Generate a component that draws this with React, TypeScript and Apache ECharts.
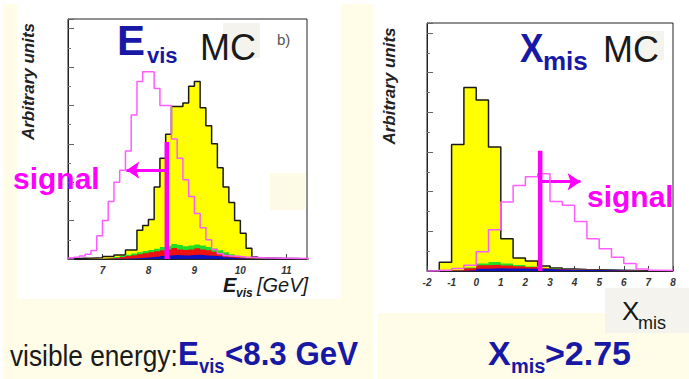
import React, { useEffect, useRef } from "react";
import * as echarts from "echarts";

// ---------- Left panel: visible energy (GeV), bins of 0.125 starting at 6.25 ----------
const EVIS_START = 6.25;
const EVIS_BIN = 0.125;
const EVIS_MIN = 6.25;
const EVIS_MAX = 11.45;
const evisTicks = [7, 8, 9, 10, 11];
// total background (yellow, black outline)
const evisBackground = [
  0.2, 0.2, 0.3, 0.3, 0.4, 0.5,
  1.0, 1.0, 1.7, 1.7, 3.8, 3.8, 12, 14,
  16.5, 30, 42, 52, 63.5, 63.5, 65, 72,
  74, 63, 55.5, 48, 38, 30, 23.5, 16,
  10.7, 4.5, 0.8, 0.5, 0.4, 0.3, 0.3, 0.2,
  0.2, 0.2, 0.1, 0.1,
];
// signal MC (magenta outline)
const evisSignal = [
  0.4, 0.7, 1.2, 2.0, 3.5, 9.7,
  16, 24, 32, 37, 45, 60, 74, 78,
  78, 71, 64, 64, 50, 42, 33, 26,
  19, 13, 8, 4, 2.2, 1.5, 1.2, 1.0,
  0.8, 0.7, 0.6, 0.5, 0.4, 0.4, 0.3, 0.3,
  0.3, 0.2, 0.2, 0.2,
];
// stacked components (cumulative tops)
const evisGreen = [
  0, 0, 0, 0.1, 0.1, 0.2,
  0.3, 0.5, 0.8, 1.2, 1.8, 2.3, 2.8, 3.3,
  3.8, 4.3, 5.0, 5.5, 6.3, 5.8, 5.3, 5.6,
  6.0, 5.6, 5.0, 4.4, 3.6, 2.8, 2.0, 1.4,
  0.9, 0.5, 0.3, 0.2, 0.1, 0.1, 0.1, 0.1,
  0, 0, 0, 0,
];
const evisRed = [
  0, 0, 0, 0.1, 0.1, 0.1,
  0.2, 0.3, 0.5, 0.8, 1.2, 1.6, 2.0, 2.4,
  2.8, 3.2, 3.6, 4.0, 4.6, 4.0, 3.7, 4.0,
  4.5, 4.0, 3.6, 3.0, 2.4, 1.8, 1.3, 0.9,
  0.6, 0.3, 0.2, 0.1, 0.1, 0.1, 0.1, 0.1,
  0, 0, 0, 0,
];
const evisBlue = [
  0, 0, 0, 0, 0, 0,
  0, 0.1, 0.1, 0.1, 0.2, 0.3, 0.4, 0.6,
  0.8, 1.0, 1.3, 1.5, 1.7, 1.6, 1.5, 1.7,
  1.8, 1.6, 1.4, 1.2, 1.0, 0.7, 0.5, 0.3,
  0.2, 0.1, 0.1, 0.1, 0.1, 0.1, 0.1, 0.1,
  0.1, 0.1, 0, 0,
];
const EVIS_CUT = 8.4;
const EVIS_CUT_TOP = 48.75;
const EVIS_ARROW_Y = 37;
const EVIS_ARROW_END = 7.52;

// ---------- Right panel: X_mis, bins of 0.5 starting at -2 ----------
const XMIS_START = -2;
const XMIS_BIN = 0.5;
const XMIS_MIN = -2;
const XMIS_MAX = 8;
const xmisTicks = [-2, -1, 0, 1, 2, 3, 4, 5, 6, 7, 8];
const xmisBackground = [0, 3.5, 51, 74, 69, 50, 13, 5.2, 4.0, 2.0, 1.2, 0.8, 0.6, 0.5, 0.4, 0.3, 0.2, 0.1, 0.1, 0.1];
const xmisSignal = [0, 0.3, 1.0, 2.3, 7.8, 16.6, 27.8, 34.5, 38, 39.2, 28, 26.5, 20, 13, 9, 5.5, 3, 0.8, 0.3, 0.2];
const xmisGreen = [0, 0, 0.4, 1.4, 3.0, 3.6, 3.0, 2.4, 1.8, 1.2, 0.9, 0.7, 0.6, 0.5, 0.4, 0.3, 0.2, 0, 0, 0];
const xmisRed = [0, 0, 0.3, 1.1, 2.3, 2.5, 2.2, 1.9, 1.6, 1.1, 0.8, 0.6, 0.6, 0.5, 0.4, 0.3, 0.2, 0, 0, 0];
const xmisBlue = [0, 0, 0.1, 0.3, 0.9, 1.1, 1.0, 1.0, 0.9, 0.8, 0.6, 0.5, 0.5, 0.4, 0.3, 0.2, 0.1, 0, 0, 0];
const XMIS_CUT = 2.6;
const XMIS_CUT_TOP = 48.5;
const XMIS_ARROW_Y = 36;
const XMIS_ARROW_END = 4.24;

const Y_MAX = 100;

const PANEL_YELLOW = "#fffde7";
const BOX_GRAY = "#f4f3ee";
const BLUE = "#1818a6";
const MAGENTA = "#ff00ff";
const PINK = "#ff5cff";
const FONT = '"Liberation Sans", Arial, Helvetica, sans-serif';

function steps(start: number, bin: number, values: number[]) {
  const pts: number[][] = values.map((v, i) => [start + i * bin, v]);
  const end = start + values.length * bin;
  pts.push([end, values[values.length - 1]]);
  pts.push([end, 0]);
  return pts;
}

function hist(ax: number, start: number, bin: number, values: number[], o: any) {
  return {
    type: "line",
    xAxisIndex: ax,
    yAxisIndex: ax,
    step: "end",
    symbol: "none",
    silent: true,
    clip: true,
    data: steps(start, bin, values),
    lineStyle: o.line ?? { width: 0, opacity: 0 },
    areaStyle: o.area ? { color: o.area, opacity: 1 } : undefined,
    z: o.z,
  };
}

function cut(ax: number, x: number, top: number, ay: number, aend: number) {
  return {
    type: "line",
    xAxisIndex: ax,
    yAxisIndex: ax,
    symbol: "none",
    silent: true,
    data: [
      [x, 0],
      [x, top],
    ],
    lineStyle: { color: MAGENTA, width: 4.5 },
    z: 10,
    markLine: {
      silent: true,
      symbol: ["none", "arrow"],
      symbolSize: 13,
      label: { show: false },
      lineStyle: { color: MAGENTA, width: 3, type: "solid" },
      data: [[{ coord: [x, ay] }, { coord: [aend, ay] }]],
    },
  };
}

function txt(text: string, x: number, baseline: number, size: number, o: any = {}) {
  return {
    type: "text",
    z: 50,
    silent: true,
    x,
    y: baseline - 0.35 * size,
    scaleX: o.sx ?? 1,
    rotation: o.rot ?? 0,
    style: {
      text,
      fill: o.color ?? "#161616",
      fontSize: size,
      fontWeight: o.weight ?? "normal",
      fontStyle: o.style ?? "normal",
      fontFamily: FONT,
      textAlign: o.align ?? "left",
      textVerticalAlign: "middle",
      align: o.align ?? "left",
      verticalAlign: "middle",
    },
  };
}

function rect(x: number, y: number, w: number, h: number, fill: string, z: number) {
  return { type: "rect", z, silent: true, shape: { x, y, width: w, height: h }, style: { fill } };
}

function xAxis(grid: number, min: number, max: number, ticks: number[]) {
  return {
    type: "value",
    gridIndex: grid,
    min,
    max,
    axisLine: { show: true, onZero: false, lineStyle: { color: "#222", width: 1 } },
    axisTick: { show: true, inside: true, length: 5, customValues: ticks, lineStyle: { color: "#444" } },
    axisLabel: {
      customValues: ticks,
      fontStyle: "italic",
      fontWeight: "bold",
      fontSize: 10,
      color: "#333",
      margin: 6,
      fontFamily: FONT,
    },
    splitLine: { show: false },
  };
}

function yAxis(grid: number) {
  return {
    type: "value",
    gridIndex: grid,
    min: 0,
    max: Y_MAX,
    interval: 16,
    axisLine: { show: true, onZero: false, lineStyle: { color: "#222", width: 1 } },
    axisTick: { show: true, inside: true, length: 6, lineStyle: { color: "#666" } },
    minorTick: { show: true, splitNumber: 2, length: 3, lineStyle: { color: "#777" } },
    axisLabel: { show: false },
    splitLine: { show: false },
    minorSplitLine: { show: false },
  };
}

export default function App() {
  const ref = useRef<HTMLDivElement>(null);
  useEffect(() => {
    const chart = echarts.init(ref.current!, null, { renderer: "svg" });
    const option: any = {
      animation: false,
      backgroundColor: "#ffffff",
      grid: [
        { left: 68, top: 19, width: 239, height: 240, show: true, borderColor: "#222", borderWidth: 1, backgroundColor: "transparent" },
        { left: 427, top: 23, width: 246, height: 248, show: true, borderColor: "#222", borderWidth: 1, backgroundColor: "transparent" },
      ],
      xAxis: [xAxis(0, EVIS_MIN, EVIS_MAX, evisTicks), xAxis(1, XMIS_MIN, XMIS_MAX, xmisTicks)],
      yAxis: [yAxis(0), yAxis(1)],
      series: [
        hist(0, EVIS_START, EVIS_BIN, evisBackground, { line: { color: "#1a1a1a", width: 1.5 }, area: "#ffff00", z: 2 }),
        hist(0, EVIS_START, EVIS_BIN, evisGreen, { area: "#22dd22", z: 3 }),
        hist(0, EVIS_START, EVIS_BIN, evisRed, { area: "#ee1111", z: 4 }),
        hist(0, EVIS_START, EVIS_BIN, evisBlue, { area: "#1010c0", z: 5 }),
        hist(0, EVIS_START, EVIS_BIN, evisSignal, { line: { color: PINK, width: 1.5 }, z: 6 }),
        cut(0, EVIS_CUT, EVIS_CUT_TOP, EVIS_ARROW_Y, EVIS_ARROW_END),
        hist(1, XMIS_START, XMIS_BIN, xmisBackground, { line: { color: "#1a1a1a", width: 1.5 }, area: "#ffff00", z: 2 }),
        hist(1, XMIS_START, XMIS_BIN, xmisGreen, { area: "#22dd22", z: 3 }),
        hist(1, XMIS_START, XMIS_BIN, xmisRed, { area: "#ee1111", z: 4 }),
        hist(1, XMIS_START, XMIS_BIN, xmisBlue, { area: "#1010c0", z: 5 }),
        hist(1, XMIS_START, XMIS_BIN, xmisSignal, { line: { color: PINK, width: 1.5 }, z: 6 }),
        cut(1, XMIS_CUT, XMIS_CUT_TOP, XMIS_ARROW_Y, XMIS_ARROW_END),
      ],
      graphic: [
        // panel backgrounds
        rect(3, 4, 370, 375, PANEL_YELLOW, -10),
        rect(17, 0, 324, 299, "#ffffff", -9),
        rect(378, 313, 311, 66, PANEL_YELLOW, -9),
        rect(223, 23, 37, 35, BOX_GRAY, -8),
        rect(640, 31, 24, 29, BOX_GRAY, -8),
        rect(270, 173, 35, 37, "#fdfbe5", -8),
        rect(605, 288, 84, 45, BOX_GRAY, -8),
        // left panel texts
        txt("Arbitrary units", 28, 81.5 + 0.35 * 17, 17, { weight: "bold", style: "italic", align: "center", rot: Math.PI / 2, color: "#222" }),
        txt("E", 117, 55, 42, { weight: "bold", color: BLUE }),
        txt("vis", 147, 63, 22, { weight: "bold", color: BLUE }),
        txt("MC", 200, 60, 36, { color: "#1a1a1a" }),
        txt("b)", 277, 45, 15, { color: "#555" }),
        txt("signal", 13, 189, 30, { weight: "bold", color: MAGENTA }),
        txt("E", 223, 292, 20, { weight: "bold", style: "italic", color: "#1a1a1a" }),
        txt("vis", 236, 297, 12, { weight: "bold", style: "italic", color: "#1a1a1a" }),
        txt("[GeV]", 257, 292, 20, { style: "italic", color: "#1a1a1a" }),
        // right panel texts
        txt("Arbitrary units", 389, 86 + 0.35 * 17, 17, { weight: "bold", style: "italic", align: "center", rot: Math.PI / 2, color: "#222" }),
        txt("X", 520, 62, 40, { weight: "bold", color: BLUE, sx: 0.88 }),
        txt("mis", 543, 70, 26, { weight: "bold", color: BLUE }),
        txt("MC", 603, 62, 36, { color: "#1a1a1a" }),
        txt("signal", 587, 207, 30, { weight: "bold", color: MAGENTA }),
        txt("X", 622, 320, 26, { color: "#161616" }),
        txt("mis", 638, 329, 18, { color: "#161616" }),
        // bottom captions
        txt("visible energy:", 10, 366, 30, { sx: 0.875, color: "#1a1a1a" }),
        txt("E", 178, 365, 34, { weight: "bold", color: BLUE, sx: 0.92 }),
        txt("vis", 199, 373, 20, { weight: "bold", color: BLUE, sx: 0.92 }),
        txt("<8.3 GeV", 225, 365, 34, { weight: "bold", color: BLUE, sx: 0.92 }),
        txt("X", 488, 365, 34, { weight: "bold", color: BLUE }),
        txt("mis", 511, 373, 20, { weight: "bold", color: BLUE }),
        txt(">2.75", 545, 365, 34, { weight: "bold", color: BLUE }),
      ],
    };
    chart.setOption(option);
    return () => chart.dispose();
  }, []);
  return <div ref={ref} style={{ position: "fixed", left: 0, top: 0, width: 689, height: 379 }} />;
}
